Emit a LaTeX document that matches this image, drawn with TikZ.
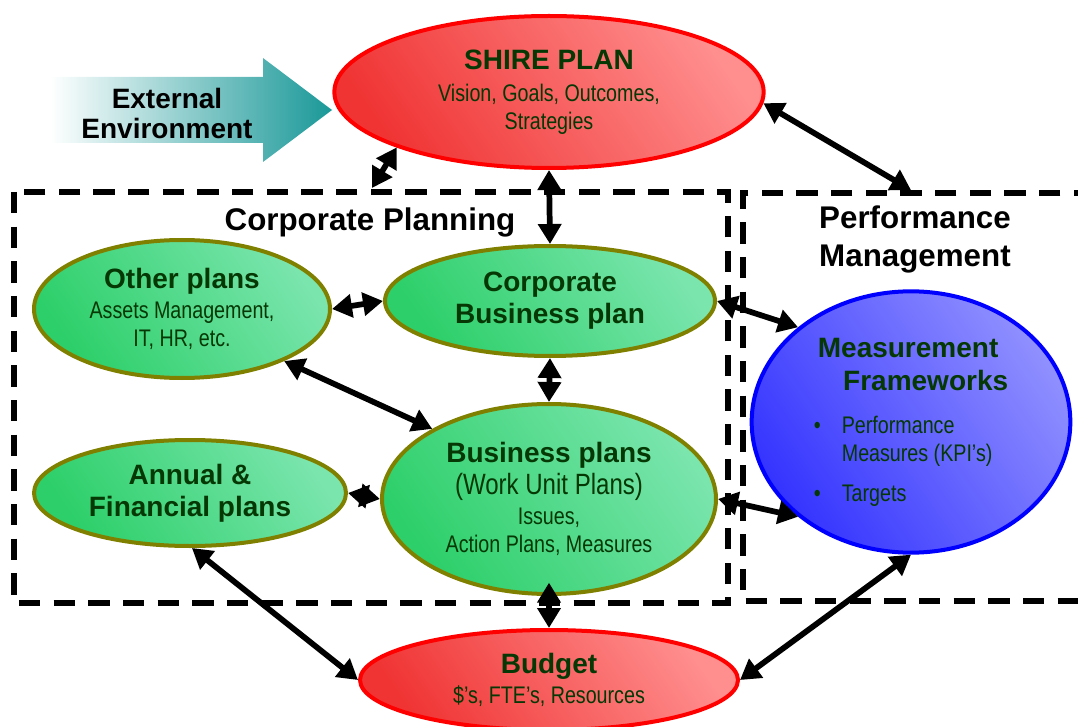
\documentclass[tikz,border=0pt]{standalone}
\usepackage{fontspec}
\setmainfont{Liberation Sans}
\newfontfamily\narrowfont[FakeStretch=0.82]{Liberation Sans}
\usetikzlibrary{arrows.meta,shapes.geometric}

\definecolor{txtgreen}{HTML}{053805}
\definecolor{redD}{HTML}{F03434}
\definecolor{redL}{HTML}{FF8E8E}
\definecolor{greenD}{HTML}{2CCF69}
\definecolor{greenL}{HTML}{7AE5AD}
\definecolor{blueD}{HTML}{3434FF}
\definecolor{blueL}{HTML}{9090FF}
\definecolor{olivebrd}{HTML}{808000}
\definecolor{extteal}{HTML}{1A9898}

\newcommand\ttl{\normalfont\fontsize{21}{24}\selectfont\bfseries}
\newcommand\subtxt{\narrowfont\fontsize{18}{21}\selectfont}
\newcommand\headtxt{\fontsize{23.5}{28.5}\selectfont\bfseries}

\begin{document}
\begin{tikzpicture}[x=0.75pt,y=-0.75pt,
  oval/.style={ellipse,inner sep=0pt,align=center,text=txtgreen,font=\subtxt,line width=3pt},
  redplan/.style={oval,draw=red,left color=redD,right color=redL,shading angle=125},
  plan/.style={oval,draw=olivebrd,left color=greenD,right color=greenL,shading angle=125},
  measure/.style={oval,draw=blue,left color=blueD,right color=blueL,shading angle=125},
  dashbox/.style={draw,line width=4pt,dash pattern=on 16pt off 10pt},
  heading/.style={font=\headtxt,align=left},
  link/.style={{Triangle[length=15pt,width=17pt]}-{Triangle[length=15pt,width=17pt]},line width=4.3pt}
]
\useasboundingbox (0,0) rectangle (1078,727);

% the two areas
\draw[dashbox] (14,192) rectangle (728,603);
\draw[dashbox] (1095,193) -- (743,193) -- (743,601) -- (1095,601);
\node[heading] (cplan) at (370,222) {Corporate Planning};
\node[heading] (pmgmt) at (915,239) {Performance\\Management};
\coordinate (cptop) at (372,188);
\coordinate (pmtop) at (911,190);

% outside influence
\shade[left color=white,middle color=extteal!45,right color=extteal]
  (50,77) -- (263,77) -- (263,58) -- (332,110) -- (263,162) -- (263,143) -- (50,143) -- cycle;
\node[font=\fontsize{21}{22.5}\selectfont\bfseries,align=center] (ext) at (167,113) {External\\Environment};

% plans
\node[redplan,minimum width=322pt,minimum height=114pt] (shire) at (549,92)
  {{\ttl SHIRE PLAN}\\[3pt]Vision, Goals, Outcomes,\\Strategies};
\node[plan,minimum width=222pt,minimum height=103.5pt] (other) at (182,309)
  {{\ttl Other plans}\\[1pt]Assets Management,\\IT, HR, etc.};
\node[plan,font=\ttl,minimum width=247.5pt,minimum height=82.5pt] (corpbp) at (550,301)
  {Corporate\\Business plan};
\node[plan,font=\ttl,minimum width=234pt,minimum height=79.5pt] (annual) at (190,493)
  {Annual \&\\Financial plans};
\node[plan,minimum width=250.5pt,minimum height=142.5pt] (busplans) at (549,499)
  {{\ttl Business plans}\\[3pt]{\fontsize{22}{24}\selectfont(Work Unit Plans)}\\[1.5pt]Issues,\\Action Plans, Measures};
\node[measure,align=left,minimum width=239pt,minimum height=196pt] (meas) at (911,422)
  {\hspace*{3pt}{\ttl Measurement}\\[4pt]
   \hspace*{22pt}{\ttl Frameworks}\\[11pt]
   \makebox[21pt][l]{\textbullet}Performance\\
   \hspace*{21pt}Measures (KPI’s)\\[9pt]
   \makebox[21pt][l]{\textbullet}Targets};
\node[redplan,minimum width=283.5pt,minimum height=75pt] (budget) at (549,680)
  {{\ttl Budget}\\[1.5pt]\$’s, FTE’s, Resources};

% links
\draw[link] (shire.-3) -- (pmtop);
\draw[link] (shire.200) -- (cptop);
\draw[link] (shire.south) -- (corpbp.north);
\draw[link] (other.east) -- (corpbp.west);
\draw[link] (corpbp.south) -- (busplans.north);
\draw[link] (other.-27) -- (busplans.149);
\draw[link] (annual.east) -- (busplans.west);
\draw[link] (corpbp.east) -- (meas.140);
\draw[link] (busplans.east) -- (meas.220);
\draw[link,shorten <=-10pt] (busplans.south) -- (budget.north);
\draw[link] (annual.-88) -- (budget.west);
\draw[link] (meas.south) -- (budget.east);
\end{tikzpicture}
\end{document}
